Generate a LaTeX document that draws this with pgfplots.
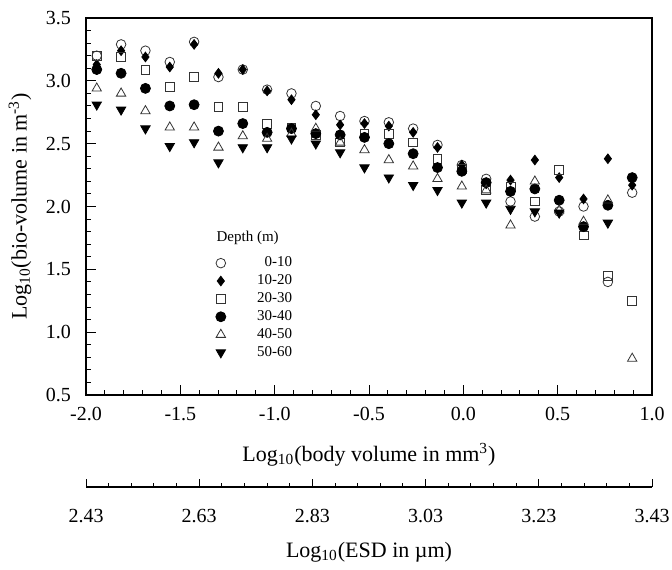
\documentclass[border=0pt]{standalone}
\usepackage{fontspec}
\setmainfont{Liberation Serif}
\usepackage{pgfplots}
\pgfplotsset{compat=1.18}
\begin{document}
\begin{tikzpicture}[x=1pt,y=1pt]
\useasboundingbox (0,0) rectangle (336,284.5);
\begin{axis}[
  at={(43pt,87pt)}, anchor=south west,
  scale only axis, width=283pt, height=188.5pt,
  xmin=-2, xmax=1, ymin=0.5, ymax=3.5,
  xtick={-2,-1.5,-1,-0.5,0,0.5,1}, ytick={0.5,1,1.5,2,2.5,3,3.5},
  minor x tick num=4, minor y tick num=4,
  tick align=inside, xtick pos=left, ytick pos=left,
  major tick length=5pt, minor tick length=2.5pt,
  axis line style={line width=0.7pt},
  every tick/.style={line width=0.5pt, black},
  /pgf/number format/fixed, /pgf/number format/fixed zerofill,
  /pgf/number format/precision=1, /pgf/number format/assume math mode=true,
  tick label style={font=\fontsize{10}{11}\selectfont},
  xticklabel style={yshift=-2.5pt},
  yticklabel style={xshift=-4pt},
  xlabel={Log\textsubscript{10}(body volume in mm\textsuperscript{3})},
  ylabel={Log\textsubscript{10}(bio-volume in m\textsuperscript{-3})},
  label style={font=\fontsize{11}{13}\selectfont},
  xlabel style={at={(axis description cs:0.5,0)}, anchor=center, yshift=-30pt},
  ylabel style={at={(axis description cs:-0.1166,0.5)}, anchor=center},
  legend style={draw=none, fill=none, at={(axis cs:-1.314,1.62)}, anchor=north west,
    font=\fontsize{7.5}{9}\selectfont, inner sep=0pt, row sep=0.45pt,
    nodes={inner sep=1pt}, /tikz/every odd column/.append style={column sep=14.7pt}},
  legend cell align=right,
  legend image code/.code={\draw[mark repeat=2,mark phase=2,#1] plot coordinates {(0pt,0pt) (4pt,0pt) (8pt,0pt)};},
]
\addplot[only marks, mark=o, mark size=2.4pt, mark options={draw=black!80, line width=0.4pt}] coordinates {
(-1.943,3.20) (-1.814,3.29) (-1.685,3.24) (-1.556,3.15) (-1.427,3.31) (-1.298,3.03)
(-1.169,3.09) (-1.040,2.93) (-0.911,2.90) (-0.782,2.80) (-0.653,2.72) (-0.524,2.68)
(-0.395,2.67) (-0.266,2.62) (-0.137,2.49) (-0.008,2.33) (0.121,2.22) (0.250,2.04)
(0.379,1.92) (0.508,1.96) (0.637,2.00) (0.766,1.40) (0.895,2.11)};
\addlegendentry{0-10}
\addplot[only marks, mark=diamond*, mark size=2.4pt, mark options={fill=black, draw=black}] coordinates {
(-1.943,3.13) (-1.814,3.24) (-1.685,3.19) (-1.556,3.11) (-1.427,3.29) (-1.298,3.06)
(-1.169,3.09) (-1.040,2.92) (-0.911,2.85) (-0.782,2.73) (-0.653,2.65) (-0.524,2.66)
(-0.395,2.64) (-0.266,2.59) (-0.137,2.47) (-0.008,2.33) (0.121,2.18) (0.250,2.21)
(0.379,2.37) (0.508,2.23) (0.637,2.06) (0.766,2.38) (0.895,2.17)};
\addlegendentry{10-20}
\addplot[only marks, mark=square, mark size=2.2pt, mark options={draw=black!80, line width=0.4pt}] coordinates {
(-1.943,3.20) (-1.814,3.19) (-1.685,3.09) (-1.556,2.95) (-1.427,3.03) (-1.298,2.79)
(-1.169,2.79) (-1.040,2.66) (-0.911,2.63) (-0.782,2.57) (-0.653,2.51) (-0.524,2.58)
(-0.395,2.58) (-0.266,2.51) (-0.137,2.38) (-0.008,2.30) (0.121,2.13) (0.250,2.16)
(0.379,2.04) (0.508,2.29) (0.637,1.77) (0.766,1.45) (0.895,1.25)};
\addlegendentry{20-30}
\addplot[only marks, mark=*, mark size=2.5pt, mark options={fill=black, draw=black}] coordinates {
(-1.943,3.09) (-1.814,3.06) (-1.685,2.94) (-1.556,2.80) (-1.427,2.81) (-1.298,2.60)
(-1.169,2.66) (-1.040,2.59) (-0.911,2.62) (-0.782,2.58) (-0.653,2.57) (-0.524,2.55)
(-0.395,2.50) (-0.266,2.42) (-0.137,2.31) (-0.008,2.28) (0.121,2.19) (0.250,2.12)
(0.379,2.14) (0.508,2.05) (0.637,1.84) (0.766,2.01) (0.895,2.23)};
\addlegendentry{30-40}
\addplot[only marks, mark=triangle, mark size=2.7pt, mark options={draw=black!80, line width=0.4pt}] coordinates {
(-1.943,2.94) (-1.814,2.90) (-1.685,2.76) (-1.556,2.63) (-1.427,2.63) (-1.298,2.47)
(-1.169,2.56) (-1.040,2.54) (-0.911,2.58) (-0.782,2.62) (-0.653,2.51) (-0.524,2.45)
(-0.395,2.37) (-0.266,2.32) (-0.137,2.22) (-0.008,2.16) (0.121,2.13) (0.250,1.85)
(0.379,2.20) (0.508,1.97) (0.637,1.88) (0.766,2.05) (0.895,0.79)};
\addlegendentry{40-50}
\addplot[only marks, mark=triangle*, mark size=2.7pt, mark options={fill=black, draw=black, rotate=180}] coordinates {
(-1.943,2.81) (-1.814,2.77) (-1.685,2.62) (-1.556,2.48) (-1.427,2.51) (-1.298,2.35)
(-1.169,2.47) (-1.040,2.47) (-0.911,2.54) (-0.782,2.50) (-0.653,2.43) (-0.524,2.31)
(-0.395,2.23) (-0.266,2.17) (-0.137,2.13) (-0.008,2.03) (0.121,2.03) (0.250,1.98)
(0.379,1.96) (0.508,1.95) (0.766,1.87)};
\addlegendentry{50-60}
\node[font=\fontsize{7.5}{9}\selectfont] at (axis cs:-1.143,1.75) {Depth (m)};
\end{axis}
\begin{axis}[
  at={(43pt,41pt)}, anchor=south west,
  scale only axis, width=283pt, height=20pt,
  xmin=2.43, xmax=3.43, ymin=0, ymax=1,
  axis x line*=bottom, axis y line=none,
  xtick={2.43,2.63,2.83,3.03,3.23,3.43},
  minor x tick num=4,
  tick align=inside, major tick length=4pt, minor tick length=2pt,
  axis line style={line width=0.7pt},
  every tick/.style={line width=0.5pt, black},
  /pgf/number format/fixed, /pgf/number format/fixed zerofill,
  /pgf/number format/precision=2, /pgf/number format/assume math mode=true,
  tick label style={font=\fontsize{10}{11}\selectfont},
  xticklabel style={yshift=-7.5pt},
  xlabel={Log\textsubscript{10}(ESD in µm)},
  label style={font=\fontsize{11}{13}\selectfont},
  xlabel style={at={(axis description cs:0.5,0)}, anchor=center, yshift=-32.5pt},
]
\addplot[draw=none] coordinates {(2.43,0.5) (3.43,0.5)};
\end{axis}
\end{tikzpicture}
\end{document}
